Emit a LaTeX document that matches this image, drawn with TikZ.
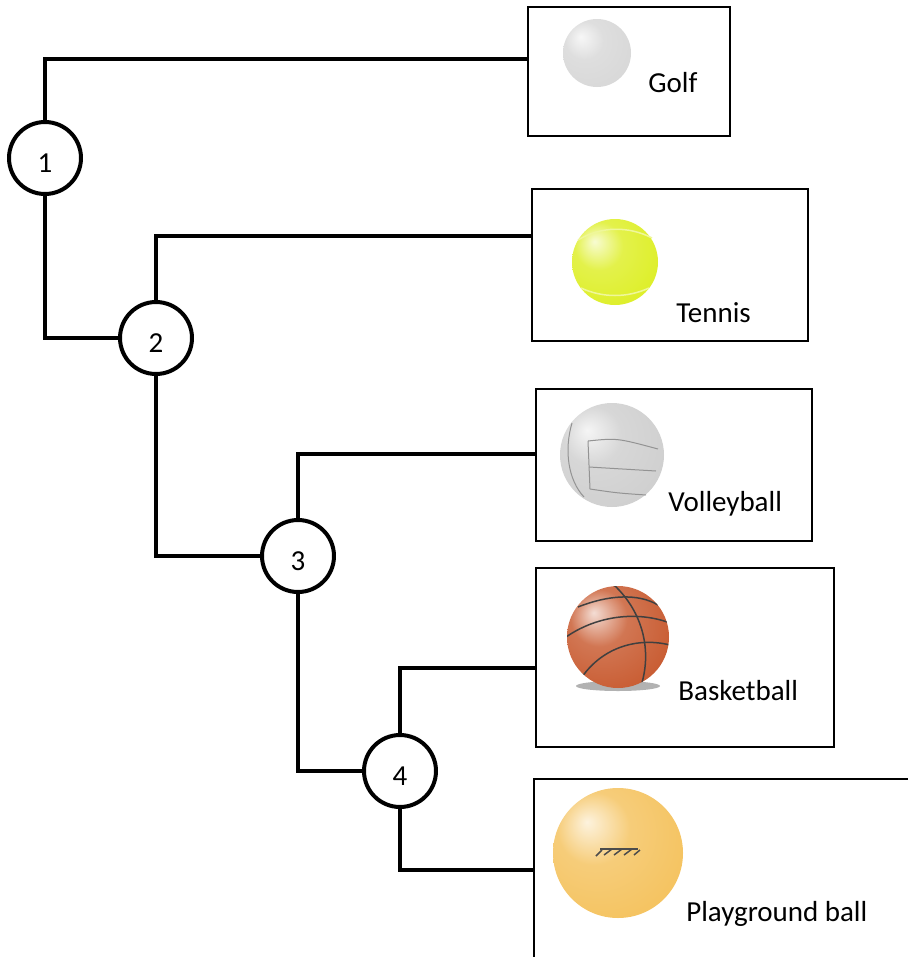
\documentclass[tikz,border=0pt]{standalone}
\usepackage{fontspec}
\setmainfont{Carlito}
\definecolor{golfgray}{RGB}{214,214,214}
\definecolor{tennisyellow}{RGB}{220,238,30}
\definecolor{volleygray}{RGB}{205,205,205}
\definecolor{basketorange}{RGB}{198,84,40}
\definecolor{playyellow}{RGB}{244,192,88}
\colorlet{balltone}{gray}
\pgfdeclareradialshading[balltone]{softball}{\pgfpoint{-12bp}{12bp}}{%
  color(0bp)=(balltone!20!white); color(14bp)=(balltone!80!white);
  color(40bp)=(balltone); color(64bp)=(balltone!72!black)}
\tikzset{
link/.style={line width=0.08cm},
knot/.style={circle, draw, line width=0.08cm, minimum size=1.44cm, inner sep=0pt,
  text height=0.56cm, text depth=0pt, font=\fontsize{16.5}{19.8}\selectfont},
card/.style={draw, line width=0.04cm, anchor=north west, inner sep=0pt},
ballname/.style={anchor=base west, inner sep=0pt, font=\fontsize{16.5}{19.8}\selectfont},
golfball/.pic={
  \colorlet{balltone}{golfgray}
  \shade[shading=softball] (0,0) circle [radius=34];
  },
tennisball/.pic={
  \colorlet{balltone}{tennisyellow}
  \shade[shading=softball] (0,0) circle [radius=43];
  \draw[white!55!tennisyellow, line width=0.03cm] (-37,-22) .. controls (-14,-36) and (14,-36) .. (37,-24);
  \draw[white!55!tennisyellow, line width=0.03cm] (-34,26) .. controls (-12,36) and (12,36) .. (34,26);
  },
volleyball/.pic={
  \colorlet{balltone}{volleygray}
  \shade[shading=softball] (0,0) circle [radius=52];
  \begin{scope}[gray!85, line width=0.02cm]
  \draw (-40,-32) .. controls (-48,-5) and (-44,25) .. (-28,42);
  \draw (-24,-14) -- (-22,34);
  \draw (-24,-14) .. controls (5,-17) .. (46,-6);
  \draw (-23,12) .. controls (10,14) .. (44,16);
  \draw (-22,34) .. controls (5,38) .. (34,40);
  \end{scope}
  },
basketball/.pic={
  \fill[black!30] (0,49) ellipse [x radius=42, y radius=5];
  \colorlet{balltone}{basketorange}
  \shade[shading=softball] (0,0) circle [radius=51];
  \begin{scope}
  \clip (0,0) circle [radius=51];
  \begin{scope}[black!75, line width=0.03cm]
  \draw (-52,0) .. controls (-20,-22) and (20,-26) .. (52,-14);
  \draw (-4,-52) .. controls (25,-25) and (35,15) .. (22,52);
  \draw (-40,-30) .. controls (-10,-42) and (20,-44) .. (40,-32);
  \draw (-36,40) .. controls (-15,10) and (20,0) .. (52,8);
  \end{scope}
  \end{scope}
  },
playball/.pic={
  \colorlet{balltone}{playyellow}
  \shade[shading=softball] (0,0) circle [radius=65];
  \begin{scope}[black!70, line width=0.03cm]
  \draw (-22,3) -- (-16,-3) (-14,2) -- (-6,-4) (-4,2) -- (4,-4) (6,2) -- (14,-4) (16,2) -- (22,-3);
  \draw (-18,-4) -- (20,-4);
  \end{scope}
  }
}
\begin{document}
\begin{tikzpicture}[x=0.02cm, y=-0.02cm]
\useasboundingbox (0,0) rectangle (907,957);
% boxes
\node[card, minimum width=4.04cm, minimum height=2.58cm] (golfbox) at (527,6) {};
\node[card, minimum width=5.52cm, minimum height=3.04cm] (tennisbox) at (531,188) {};
\node[card, minimum width=5.52cm, minimum height=3.04cm] (volleybox) at (535,388) {};
\node[card, minimum width=5.96cm, minimum height=3.58cm] (basketbox) at (535,567) {};
\node[card, minimum width=8.4cm, minimum height=5cm] (playbox) at (533,778) {};
% balls
\pic at (597,53) {golfball};
\pic at (615,262) {tennisball};
\pic at (612,455) {volleyball};
\pic at (618,637) {basketball};
\pic at (618,853) {playball};
\node[ballname] (golf) at (648,92) {Golf};
\node[ballname] (tennis) at (676,322) {Tennis};
\node[ballname] (volley) at (668,511) {Volleyball};
\node[ballname] (basket) at (678,700) {Basketball};
\node[ballname] (play) at (686,921) {Playground ball};
% key
\node[knot] (n1) at (45,158) {1};
\node[knot] (n2) at (156,338) {2};
\node[knot] (n3) at (298,556) {3};
\node[knot] (n4) at (400,771) {4};
\draw[link] (n1.north) |- (golfbox.west |- 0,59);
\draw[link] (n1.south) |- (n2.west);
\draw[link] (n2.north) |- (tennisbox.west |- 0,236);
\draw[link] (n2.south) |- (n3.west);
\draw[link] (n3.north) |- (volleybox.west |- 0,454);
\draw[link] (n3.south) |- (n4.west);
\draw[link] (n4.north) |- (basketbox.west |- 0,668);
\draw[link] (n4.south) |- (playbox.west |- 0,870);
\end{tikzpicture}
\end{document}
